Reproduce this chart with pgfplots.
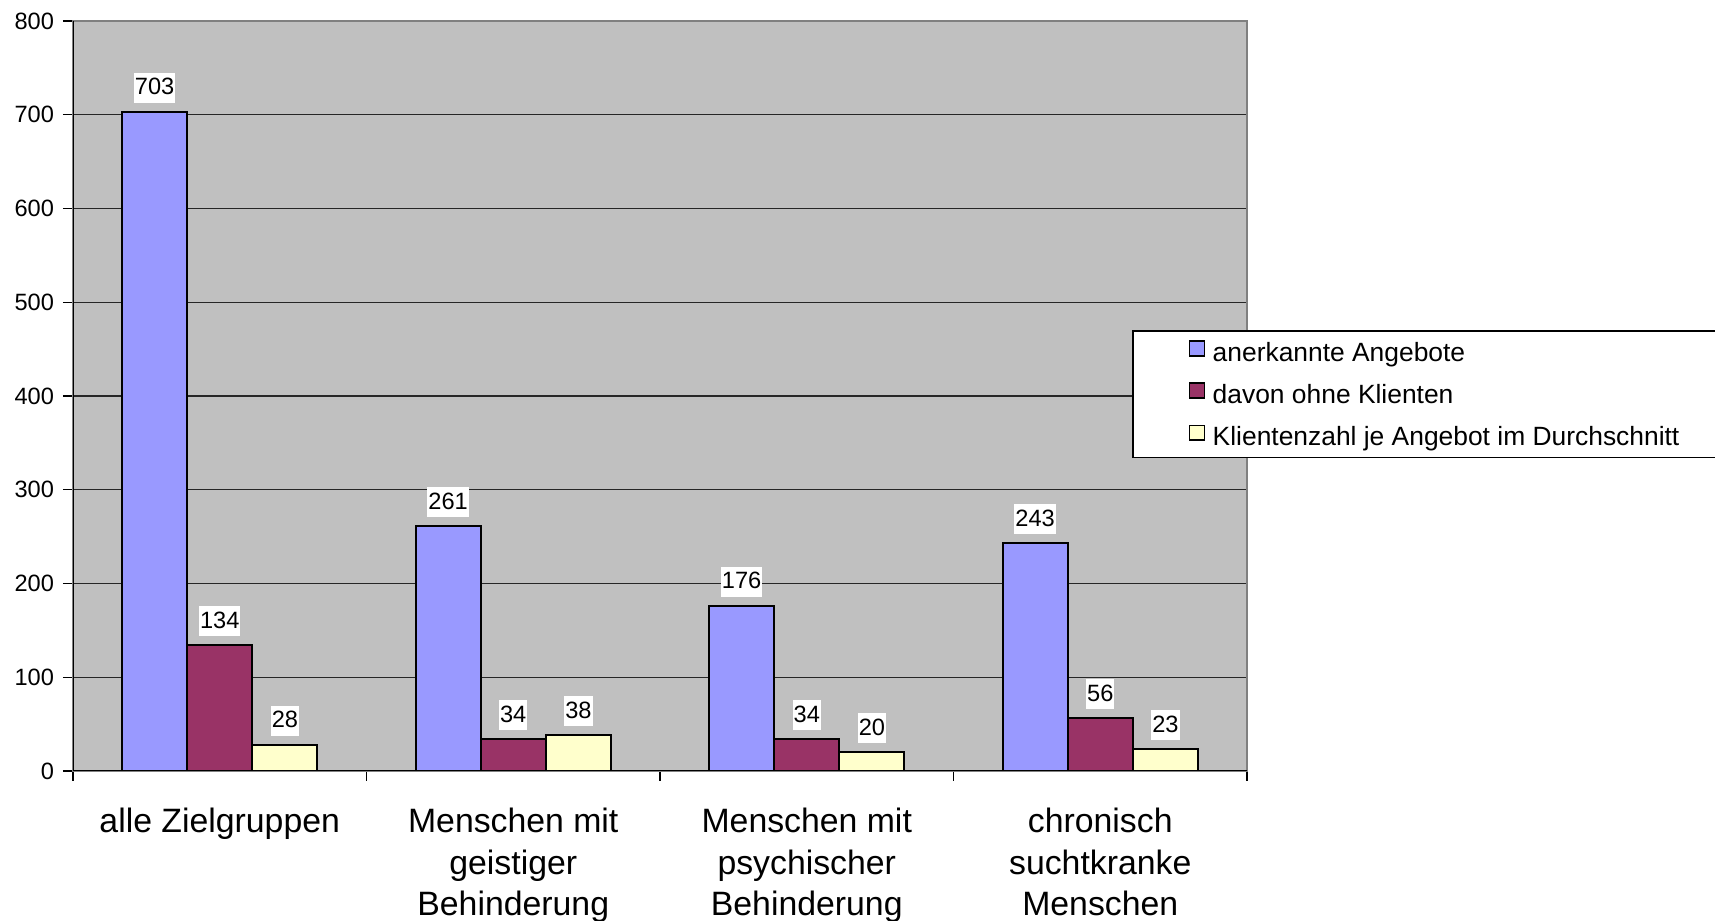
\documentclass[border=0pt]{standalone}
\usepackage{fontspec}
\setmainfont{Liberation Sans}
\usepackage{pgfplots}
\pgfplotsset{compat=1.18}
\definecolor{cA}{HTML}{9999FF}
\definecolor{cB}{HTML}{993366}
\definecolor{cC}{HTML}{FFFFCC}
\definecolor{bgc}{HTML}{C0C0C0}
\definecolor{brd}{HTML}{808080}
\pgfplotsset{mylegend/.style={legend image code/.code={\draw[##1,line width=0.8pt] (0pt,-1.9pt) rectangle (7.4pt,5.5pt); \path (9.6pt,0pt);}}}
\begin{document}
\begin{tikzpicture}
\begin{axis}[
  at={(36.5pt,75pt)}, anchor=south west,
  scale only axis, width=587pt, height=375pt,
  xmin=-0.5, xmax=3.5, ymin=0, ymax=800,
  ybar,
  axis background/.style={fill=bgc},
  axis line style={draw=brd, line width=1pt},
  ymajorgrids, major grid style={draw=black!85, line width=0.6pt},
  tick align=outside, tick pos=left,
  major tick length=5pt,
  tick style={black, line width=0.7pt},
  ytick={0,100,...,800},
  /pgf/number format/assume math mode=true,
  yticklabel style={font=\fontsize{11.8}{14}\selectfont, xshift=-1pt},
  xtick={-0.5,0.5,1.5,2.5,3.5},
  x tick label as interval,
  xticklabels={alle Zielgruppen,{Menschen mit\\geistiger\\Behinderung},{Menschen mit\\psychischer\\Behinderung},{chronisch\\suchtkranke\\Menschen}},
  xticklabel style={align=center, font=\fontsize{16.9}{20.8}\selectfont, yshift=-10pt},
  nodes near coords,
  every node near coord/.append style={fill=white, text=black, inner xsep=0.5pt, inner ysep=1pt, text height=10pt, text depth=3pt, font=\fontsize{11.8}{14}\selectfont, yshift=4pt},
  legend cell align=left,
  legend style={at={(rel axis cs:0.902,0.588)}, anchor=north west, draw=black, line width=0.8pt, fill=white,
    font=\fontsize{13.2}{15}\selectfont, inner xsep=28pt, inner ysep=4pt, row sep=7.9pt,
    nodes={inner xsep=1.5pt, inner ysep=0pt, text height=11.4pt, text depth=1.8pt}},
]
\addplot[fill=cA, draw=black, line width=1pt, bar width=0.222, bar shift=-0.222, mylegend] coordinates {(0,703) (1,261) (2,176) (3,243)};
\addplot[fill=cB, draw=black, line width=1pt, bar width=0.222, bar shift=0, mylegend] coordinates {(0,134) (1,34) (2,34) (3,56)};
\addplot[fill=cC, draw=black, line width=1pt, bar width=0.222, bar shift=0.222, mylegend] coordinates {(0,28) (1,38) (2,20) (3,23)};
\draw[black, line width=1pt] (rel axis cs:0,0) -- (rel axis cs:0,1);
\draw[black, line width=1pt] (rel axis cs:0,0) -- (rel axis cs:1,0);
\legend{anerkannte Angebote, davon ohne Klienten, Klientenzahl je Angebot im Durchschnitt}
\end{axis}
\pgfresetboundingbox
\path[use as bounding box] (0pt,0pt) rectangle (857.5pt,460.5pt);
\end{tikzpicture}
\end{document}
